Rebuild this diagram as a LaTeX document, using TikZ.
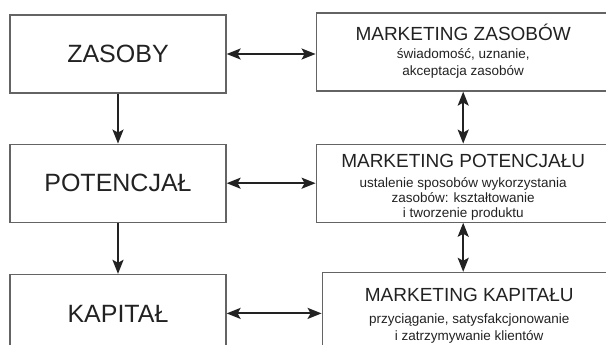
\documentclass[tikz,border=0pt]{standalone}
\usepackage{fontspec}
\setmainfont{Liberation Sans}
\usetikzlibrary{arrows.meta, positioning}
\definecolor{frame1}{RGB}{100, 100, 100}
\definecolor{ink1}{RGB}{34, 34, 34}

\begin{document}
\begin{tikzpicture}[x=1pt, y=1pt, node distance=50pt, text=ink1,
    stage/.style={rectangle, draw=frame1, line width=1.2pt, minimum width=216pt, minimum height=78pt, inner sep=0pt, font=\fontsize{25}{30}\selectfont},
    mbox/.style={rectangle, draw=frame1, line width=1.2pt, minimum width=294pt, minimum height=78pt, inner sep=0pt},
    mtitle/.style={anchor=base, inner sep=0pt, font=\fontsize{19}{22}\selectfont},
    mdesc/.style={anchor=base, inner sep=0pt, align=center, font=\fontsize{13.5}{16.7}\selectfont},
    arrow/.style={-{Stealth[length=14pt, width=11pt, inset=3pt]}, line width=2pt, draw=ink1},
    twoway/.style={{Stealth[length=14pt, width=11pt, inset=3pt]}-{Stealth[length=14pt, width=11pt, inset=3pt]}, line width=2pt, draw=ink1}]
    \useasboundingbox (0,0) rectangle (606,-345);
    % left column
    \node[stage] (zasoby) at (118,-54) {ZASOBY};
    \node[stage, below=of zasoby] (potencjal) {POTENCJAŁ};
    \node[stage, below=51pt of potencjal] (kapital) {KAPITAŁ};
    % right column
    \node[mbox, right=89pt of zasoby, yshift=2pt] (mzas) {};
    \node[mbox, right=89pt of potencjal] (mpot) {};
    \node[mbox, right=95pt of kapital, yshift=2pt] (mkap) {};
    \node[mtitle] (mzast) at ([yshift=-27.7pt]mzas.north) {MARKETING ZASOBÓW};
    \node[mdesc] (mzasd) at ([yshift=-63pt]mzas.north) {świadomość, uznanie,\\akceptacja zasobów};
    \node[mtitle] (mpott) at ([yshift=-23.7pt]mpot.north) {MARKETING POTENCJAŁU};
    \node[mdesc, font=\fontsize{13.5}{15}\selectfont] (mpotd) at ([yshift=-73.7pt]mpot.north) {ustalenie sposobów wykorzystania\\zasobów: kształtowanie\\i tworzenie produktu};
    \node[mtitle] (mkapt) at ([yshift=-30pt]mkap.north) {MARKETING KAPITAŁU};
    \node[mdesc] (mkapd) at ([yshift=-68.3pt]mkap.north) {przyciąganie, satysfakcjonowanie\\i zatrzymywanie klientów};
    % connectors
    \draw[arrow] (zasoby) -- (potencjal);
    \draw[arrow] (potencjal) -- (kapital);
    \draw[twoway] (zasoby.east) -- (zasoby.east -| mzas.west);
    \draw[twoway] (potencjal.east) -- (potencjal.east -| mpot.west);
    \draw[twoway] (kapital.east) -- (kapital.east -| mkap.west);
    \draw[twoway] (mzas.south) -- (mpot.north);
    \draw[twoway] (mpot.south) -- (mpot.south |- mkap.north);
\end{tikzpicture}
\end{document}
